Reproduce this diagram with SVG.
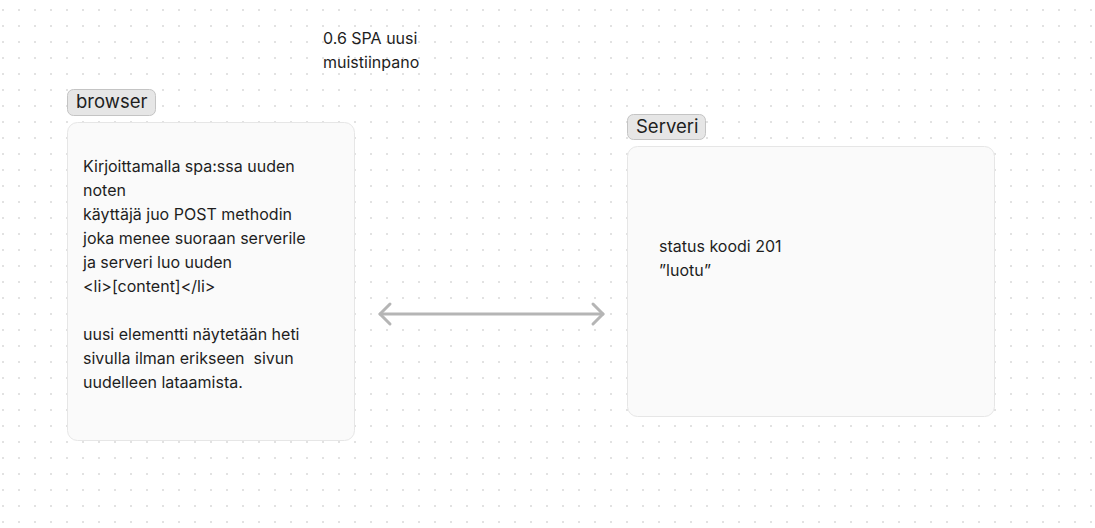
<svg xmlns="http://www.w3.org/2000/svg" width="1095" height="528" viewBox="0 0 1095 528">
<defs>
<pattern id="dots" x="2" y="9" width="16" height="16" patternUnits="userSpaceOnUse">
<rect x="0" y="0" width="2" height="2" fill="#e2e2e2"/>
</pattern>
<style>
.t{font-family:Inter,"Noto Sans",sans-serif;font-size:16px;fill:#1e1e1e;white-space:pre}
.lbl{font-family:Inter,"Noto Sans",sans-serif;font-size:18.5px;fill:#1e1e1e}
.box{fill:#fafafa;stroke:#e6e6e6;stroke-width:1}
.tag{fill:#e6e6e6;stroke:#c4c4c4;stroke-width:1}
.conn{stroke:#b5b5b5;stroke-width:3;fill:none;stroke-linecap:round;stroke-linejoin:round}
</style>
</defs>
<rect width="1095" height="528" fill="#ffffff"/>
<rect width="1095" height="528" fill="url(#dots)"/>
<g id="title">
<text class="t" x="323" y="44">0.6 SPA uusi</text>
<text class="t" x="323" y="68">muistiinpano</text>
</g>
<g id="browser">
<rect class="tag" x="67.5" y="89.5" width="88" height="26" rx="6"/>
<text class="lbl" x="76" y="108">browser</text>
<rect class="box" x="67.5" y="122.5" width="287" height="318" rx="10"/>
<text class="t" x="83" y="172">Kirjoittamalla spa:ssa uuden</text>
<text class="t" x="83" y="196">noten</text>
<text class="t" x="83" y="220">käyttäjä juo POST methodin</text>
<text class="t" x="83" y="244">joka menee suoraan serverile</text>
<text class="t" x="83" y="268">ja serveri luo uuden</text>
<text class="t" x="83" y="292">&lt;li&gt;[content]&lt;/li&gt;</text>
<text class="t" x="83" y="340">uusi elementti näytetään heti</text>
<text class="t" x="83" y="364" xml:space="preserve">sivulla ilman erikseen  sivun</text>
<text class="t" x="83" y="388">uudelleen lataamista.</text>
</g>
<g id="serveri">
<rect class="tag" x="627.5" y="114.5" width="78" height="25" rx="6"/>
<text class="lbl" x="636" y="133">Serveri</text>
<rect class="box" x="627.5" y="146.5" width="367" height="270" rx="10"/>
<text class="t" x="659" y="252">status koodi 201</text>
<text class="t" x="659" y="276">”luotu”</text>
</g>
<g id="connectors">
<path class="conn" d="M380 314 H603"/>
<path class="conn" d="M390 304 L380 314 L390 324"/>
<path class="conn" d="M593 304 L603 314 L593 324"/>
</g>
</svg>
